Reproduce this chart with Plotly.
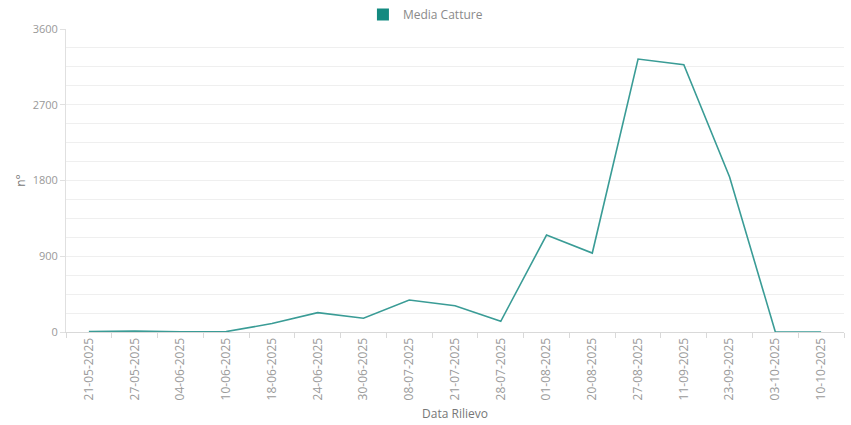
import plotly.graph_objects as go

dates = ["21-05-2025","27-05-2025","04-06-2025","10-06-2025","18-06-2025","24-06-2025",
         "30-06-2025","08-07-2025","21-07-2025","28-07-2025","01-08-2025","20-08-2025",
         "27-08-2025","11-09-2025","23-09-2025","03-10-2025","10-10-2025"]
media_catture = [5, 10, 3, 5, 100, 230, 163, 380, 312, 127, 1152, 938, 3243, 3175, 1841, 0, 0]
y_ticks = [0, 900, 1800, 2700, 3600]

fig = go.Figure()
fig.add_trace(go.Scatter(
    x=dates, y=media_catture, mode="lines", name="Media Catture",
    line=dict(color="#3a9c96", width=1.6), showlegend=False,
))
# legend swatch (square marker like the reference)
fig.add_trace(go.Scatter(
    x=[None], y=[None], mode="markers", name="Media Catture",
    marker=dict(symbol="square", size=13, color="#138a80"), showlegend=True,
))

font = "Open Sans, Verdana, sans-serif"
fig.update_layout(
    width=851, height=425,
    margin=dict(l=66, r=7, t=29, b=93, autoexpand=False),
    paper_bgcolor="white", plot_bgcolor="white",
    font=dict(family=font, color="#8a8a8a", size=12),
    showlegend=True,
    legend=dict(orientation="h", x=0.462, xanchor="center", y=1.0, yanchor="bottom",
                font=dict(size=12, color="#8a8a8a"),
                itemsizing="constant", itemwidth=30),
    xaxis=dict(
        type="category", tickangle=-90, tickson="boundaries",
        ticks="outside", ticklen=5, tickcolor="#d9d9d9",
        showline=True, linecolor="#d9d9d9", linewidth=1,
        showgrid=False, tickfont=dict(size=12, color="#9a9a9a"),
        title=dict(text="Data Rilievo", font=dict(size=12, color="#777777"), standoff=10),
        range=[-0.5, len(dates) - 0.5],
    ),
    yaxis=dict(
        range=[0, 3600], tickvals=y_ticks, ticks="outside", ticklen=5, tickcolor="#e0e0e0",
        showline=True, linecolor="#e0e0e0", linewidth=1,
        showgrid=True, gridcolor="#efefef", zeroline=False,
        minor=dict(dtick=225, showgrid=True, gridcolor="#efefef", ticks=""),
        tickfont=dict(size=11, color="#999999"),
        title=dict(text="n°", font=dict(size=12, color="#777777"), standoff=4),
    ),
)
fig.write_html("out.html")
